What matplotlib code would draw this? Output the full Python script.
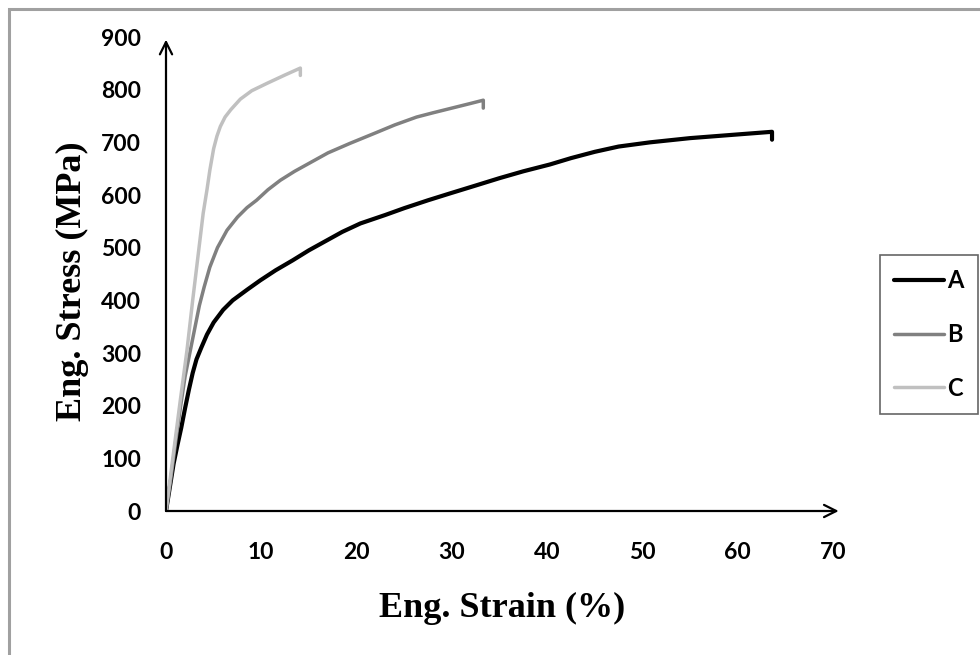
import matplotlib.pyplot as plt
from matplotlib.patches import Rectangle

# Stress-strain curves (strain %, stress MPa)
strain_a = [0, 0.4, 0.8, 1.2, 1.6, 2.0, 2.4, 2.8, 3.2, 3.7, 4.3, 5.0, 6.0, 7.0,
            8.5, 9.9, 11.5, 13.3, 15, 16.9, 18.5, 20.4, 23, 25, 27.5, 29.8,
            32.5, 35, 37.5, 40.3, 42.5, 45, 47.5, 50.8, 55, 60, 63.6, 63.6]
stress_a = [0, 45, 90, 125, 158, 195, 230, 262, 288, 310, 335, 358, 382, 400,
            420, 438, 457, 476, 495, 514, 530, 546, 562, 575, 590, 603,
            618, 632, 645, 658, 670, 682, 692, 700, 708, 715, 720, 705]

strain_b = [0, 0.5, 1.0, 1.5, 2.0, 2.5, 3.0, 3.5, 4.0, 4.6, 5.4, 6.4, 7.5, 8.5,
            9.5, 10.7, 12, 13.5, 15, 17, 19.3, 22, 24, 26.3, 28, 30, 32, 33.3,
            33.3]
stress_b = [0, 60, 130, 195, 255, 300, 345, 390, 425, 463, 500, 533, 558, 576,
            590, 610, 628, 645, 660, 680, 698, 718, 733, 748, 756, 765, 774, 780,
            765]

strain_c = [0, 0.5, 1.0, 1.5, 2.2, 2.8, 3.4, 3.9, 4.3, 4.6, 5.0, 5.35, 5.7,
            6.2, 6.8, 7.8, 9, 10.6, 12.5, 14.1, 14.1]
stress_c = [0, 70, 140, 210, 305, 400, 490, 565, 610, 647, 688, 712, 730,
            748, 762, 782, 798, 812, 828, 841, 827]

labels = ['A', 'B', 'C']
colors = ['black', '#808080', '#c0c0c0']

fig = plt.figure(figsize=(9.8, 6.55), dpi=100)
ax = fig.add_axes([166 / 980, 144 / 655, 667 / 980, 474 / 655])

ax.plot(strain_a, stress_a, color=colors[0], lw=3, label=labels[0],
        solid_joinstyle='round', solid_capstyle='round')
ax.plot(strain_b, stress_b, color=colors[1], lw=2.5, label=labels[1],
        solid_joinstyle='round', solid_capstyle='round')
ax.plot(strain_c, stress_c, color=colors[2], lw=2.5, label=labels[2],
        solid_joinstyle='round', solid_capstyle='round')

ax.set_xlim(0, 70)
ax.set_ylim(0, 900)
ax.set_xticks(range(0, 71, 10))
ax.set_yticks(range(0, 901, 100))
for s in ax.spines.values():
    s.set_visible(False)
ax.tick_params(length=0, labelsize=16.5)
ax.tick_params(axis='x', pad=22)
ax.tick_params(axis='y', pad=18)
for t in ax.get_xticklabels() + ax.get_yticklabels():
    t.set_fontfamily('Lato')
    t.set_fontweight('bold')

# axes drawn as arrows
arrow = dict(arrowstyle='->', lw=1.6, color='black', mutation_scale=22,
             shrinkA=0, shrinkB=0)
ax.annotate('', xy=(70.6, 0), xytext=(0, 0), arrowprops=arrow,
            annotation_clip=False)
ax.annotate('', xy=(0, 895), xytext=(0, 0), arrowprops=arrow,
            annotation_clip=False)

fig.text(502 / 980, 1 - 608 / 655, 'Eng. Strain (%)', ha='center', va='center',
         family='Liberation Serif', fontweight='bold', fontsize=26)
fig.text(72 / 980, 1 - 281 / 655, 'Eng. Stress (MPa)', ha='center', va='center',
         rotation=90, family='Liberation Serif', fontweight='bold', fontsize=26)

leg = ax.legend(loc='upper left', bbox_to_anchor=(880 / 980, 1 - 255 / 655),
                bbox_transform=fig.transFigure, frameon=True, fancybox=False,
                borderaxespad=0, handlelength=2.1, handletextpad=0.15,
                labelspacing=1.3, borderpad=0.6,
                prop={'family': 'Lato', 'weight': 'bold', 'size': 17})
leg.get_frame().set_edgecolor('#404040')
leg.get_frame().set_linewidth(1.2)

# gray outer frame (only top and left edges visible)
fig.patches.append(Rectangle((9 / 980, -0.2), 1.5, 0.2 + 646 / 655,
                             transform=fig.transFigure, fill=False,
                             edgecolor='#a0a0a0', lw=2.2))

fig.savefig('out.png', dpi=100)
